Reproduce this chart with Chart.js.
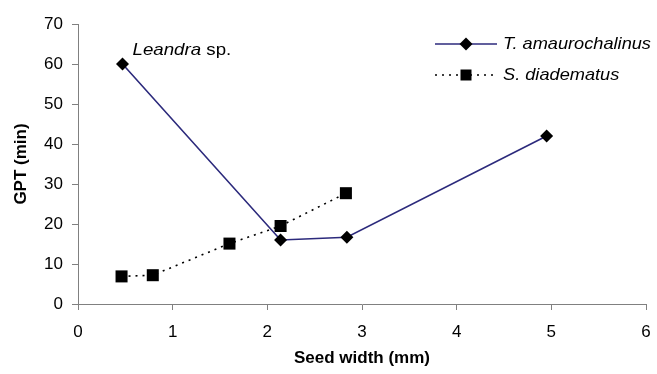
<!DOCTYPE html>
<html lang="en">
<head>
  <meta charset="UTF-8">
  <title>GPT vs seed width</title>
  <script src="https://cdn.jsdelivr.net/npm/chart.js"></script>
  <style>
    html, body { margin: 0; padding: 0; background: #fff; }
    #wrap { width: 657px; height: 374px; }
  </style>
</head>
<body>
<div id="wrap"><canvas id="chart"></canvas></div>
<script>
  // data
  const seriesNames = ['T. amaurochalinus', 'S. diadematus'];
  const amauroWidth = [0.47, 2.14, 2.84, 4.95];
  const amauroGPT   = [60, 16, 16.7, 42];
  const diademWidth = [0.46, 0.79, 1.6, 2.14, 2.83];
  const diademGPT   = [6.9, 7.2, 15.1, 19.5, 27.7];
  const xTicks = [0, 1, 2, 3, 4, 5, 6];
  const yTicks = [0, 10, 20, 30, 40, 50, 60, 70];
  const noteText = ['Leandra', ' sp.'];   // italic genus + plain "sp."
  const notePoint = 0;                    // index in amauro series

  const FONT = '"Liberation Sans", Arial, sans-serif';
  const axisGrey = '#808080';
  const navy = '#2c2a7c';

  const toXY = (xs, ys) => xs.map((x, i) => ({ x: x, y: ys[i] }));

  // stretched text, the original figure is a bit wider than tall
  function wideText(ctx, str, x, y, stretch) {
    ctx.save();
    ctx.translate(x, y);
    ctx.scale(stretch, 1);
    ctx.fillText(str, 0, 0);
    const w = ctx.measureText(str).width * stretch;
    ctx.restore();
    return w;
  }

  function marker(ctx, style, x, y, r) {
    ctx.beginPath();
    if (style === 'rectRot') {
      ctx.moveTo(x, y - r); ctx.lineTo(x + r, y); ctx.lineTo(x, y + r); ctx.lineTo(x - r, y);
    } else {
      ctx.rect(x - r, y - r, 2 * r, 2 * r);
    }
    ctx.closePath();
    ctx.fillStyle = '#000';
    ctx.fill();
  }

  const legendAndNote = {
    id: 'legendAndNote',
    afterDraw(chart) {
      const ctx = chart.ctx;
      const xs = chart.scales.x, ys = chart.scales.y;
      ctx.save();
      ctx.textBaseline = 'middle';
      ctx.fillStyle = '#000';

      // legend, top right
      const rows = [44, 75];
      chart.data.datasets.forEach((ds, i) => {
        const y = rows[i];
        ctx.save();
        ctx.strokeStyle = ds.borderColor;
        ctx.lineWidth = ds.borderWidth;
        ctx.setLineDash(ds.borderDash || []);
        ctx.beginPath();
        ctx.moveTo(435, y);
        ctx.lineTo(497, y);
        ctx.stroke();
        ctx.restore();
        marker(ctx, ds.pointStyle, 466, y, ds.pointStyle === 'rectRot' ? 6.5 : 5.5);
        ctx.font = 'italic 17px ' + FONT;
        ctx.fillStyle = '#000';
        wideText(ctx, ds.label, 503, y, 1.07);
      });

      // point annotation
      const px = xs.getPixelForValue(amauroWidth[notePoint]) + 10;
      const py = ys.getPixelForValue(amauroGPT[notePoint]) - 9;
      ctx.textBaseline = 'alphabetic';
      ctx.font = 'italic 17px ' + FONT;
      const w = wideText(ctx, noteText[0], px, py, 1.1);
      ctx.font = '17px ' + FONT;
      wideText(ctx, noteText[1], px + w, py, 1.1);
      ctx.restore();
    }
  };

  new Chart(document.getElementById('chart'), {
    type: 'scatter',
    data: {
      datasets: [
        {
          label: seriesNames[0],
          data: toXY(amauroWidth, amauroGPT),
          showLine: true,
          borderColor: navy,
          borderWidth: 1.6,
          pointStyle: 'rectRot',
          pointRadius: 6.5,
          pointHoverRadius: 6.5,
          pointBackgroundColor: '#000',
          pointBorderColor: '#000',
          pointBorderWidth: 0
        },
        {
          label: seriesNames[1],
          data: toXY(diademWidth, diademGPT),
          showLine: true,
          borderColor: '#000',
          borderWidth: 1.6,
          borderDash: [2, 5],
          pointStyle: 'rect',
          pointRadius: 8.5,
          pointHoverRadius: 8.5,
          pointBackgroundColor: '#000',
          pointBorderColor: '#000',
          pointBorderWidth: 0
        }
      ]
    },
    options: {
      responsive: true,
      maintainAspectRatio: false,
      animation: false,
      devicePixelRatio: 1,
      layout: { padding: { top: 24, right: 11, left: 0, bottom: 0 } },
      plugins: {
        legend: { display: false },
        tooltip: { enabled: false }
      },
      scales: {
        x: {
          type: 'linear',
          min: xTicks[0],
          max: xTicks[xTicks.length - 1],
          afterFit: s => { s.height = 70; s.paddingLeft = 0; s.paddingRight = 0; },
          afterBuildTicks: s => { s.ticks = xTicks.map(v => ({ value: v })); },
          ticks: { color: '#000', font: { family: FONT, size: 17 }, padding: 12, maxRotation: 0 },
          grid: { drawOnChartArea: false, drawTicks: true, tickLength: 6, color: axisGrey },
          border: { color: axisGrey, width: 1 },
          title: {
            display: true, text: 'Seed width (mm)', color: '#000',
            font: { family: FONT, size: 17, weight: 'bold' },
            padding: { top: 0, bottom: 5 }
          }
        },
        y: {
          min: yTicks[0],
          max: yTicks[yTicks.length - 1],
          afterFit: s => { s.width = 78; s.paddingTop = 0; s.paddingBottom = 0; },
          afterBuildTicks: s => { s.ticks = yTicks.map(v => ({ value: v })); },
          ticks: { color: '#000', font: { family: FONT, size: 17 }, padding: 9 },
          grid: { drawOnChartArea: false, drawTicks: true, tickLength: 6, color: axisGrey },
          border: { color: axisGrey, width: 1 },
          title: {
            display: true, text: 'GPT (min)', color: '#000',
            font: { family: FONT, size: 17, weight: 'bold' },
            padding: { top: 11, bottom: 0 }
          }
        }
      }
    },
    plugins: [legendAndNote]
  });
</script>
</body>
</html>
